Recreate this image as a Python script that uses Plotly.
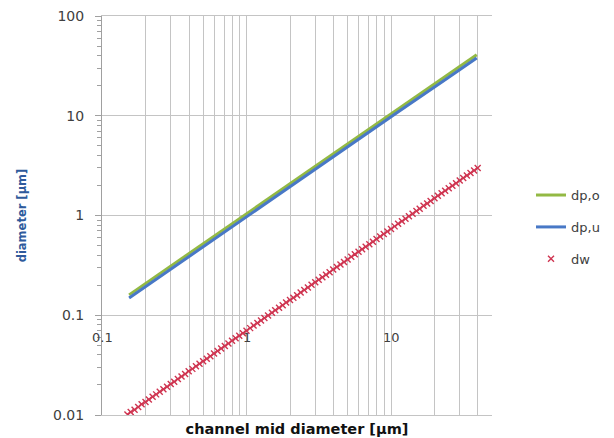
import math
import plotly.graph_objects as go

# channel mid diameters [µm]
channel_mid = [0.150, 0.158, 0.168, 0.178, 0.188, 0.200, 0.211, 0.224, 0.237, 0.251,
               0.266, 0.282, 0.299, 0.316, 0.335, 0.355, 0.376, 0.398, 0.422, 0.447,
               0.473, 0.501, 0.531, 0.562, 0.596, 0.631, 0.668, 0.708, 0.750, 0.794,
               0.841, 0.891, 0.944,
               1.00, 1.06, 1.12, 1.19, 1.26, 1.33, 1.41, 1.50, 1.58, 1.68,
               1.78, 1.88, 2.00, 2.11, 2.24, 2.37, 2.51, 2.66, 2.82, 2.99,
               3.16, 3.35, 3.55, 3.76, 3.98, 4.22, 4.47, 4.73, 5.01, 5.31,
               5.62, 5.96, 6.31, 6.68, 7.08, 7.50, 7.94, 8.41, 8.91, 9.44,
               10.0, 10.6, 11.2, 11.9, 12.6, 13.3, 14.1, 15.0, 15.8, 16.8,
               17.8, 18.8, 20.0, 21.1, 22.4, 23.7, 25.1, 26.6, 28.2, 29.9,
               31.6, 33.5, 35.5, 37.6, 39.8]

dw = [0.0101, 0.0107, 0.0113, 0.0120, 0.0128, 0.0135, 0.0143, 0.0152, 0.0161, 0.0171,
      0.0181, 0.0192, 0.0204, 0.0216, 0.0229, 0.0243, 0.0258, 0.0274, 0.0290, 0.0308,
      0.0326, 0.0346, 0.0367, 0.0389, 0.0413, 0.0438, 0.0464, 0.0492, 0.0522, 0.0554,
      0.0587, 0.0623, 0.0660,
      0.0700, 0.0743, 0.0788, 0.0835, 0.0885, 0.0939, 0.0996, 0.106, 0.112, 0.119,
      0.126, 0.134, 0.142, 0.150, 0.159, 0.169, 0.179, 0.190, 0.202, 0.214,
      0.227, 0.240, 0.255, 0.270, 0.287, 0.304, 0.322, 0.342, 0.363, 0.385,
      0.408, 0.432, 0.459, 0.486, 0.516, 0.547, 0.580, 0.615, 0.652, 0.692,
      0.734, 0.778, 0.825, 0.875, 0.928, 0.984, 1.04, 1.11, 1.17, 1.25,
      1.32, 1.40, 1.49, 1.58, 1.67, 1.77, 1.88, 1.99, 2.11, 2.24,
      2.38, 2.52, 2.67, 2.83, 3.00]

line_x = [0.154, 0.316, 0.649, 1.33, 2.74, 5.62, 11.5, 23.7, 39.2]
dp_o = [0.160, 0.329, 0.675, 1.38, 2.85, 5.84, 12.0, 24.6, 40.8]
dp_u = [0.149, 0.307, 0.630, 1.29, 2.66, 5.45, 11.2, 23.0, 38.0]

y_ticks = [0.01, 0.1, 1, 10, 100]
y_ticklabels = ["0.01", "0.1", "1", "10", "100"]
x_ticks = [0.1, 1, 10]
x_ticklabels = ["0.1", "1", "10"]

FONT = "DejaVu Sans"
GRID = "#C4C4C4"

fig = go.Figure()
fig.add_trace(go.Scatter(x=line_x, y=dp_o, mode="lines", name="dp,o", legendgroup="a",
                         line=dict(color="#93B944", width=3)))
fig.add_trace(go.Scatter(x=line_x, y=dp_u, mode="lines", name="dp,u", legendgroup="b",
                         line=dict(color="#4878C6", width=3)))
fig.add_trace(go.Scatter(x=channel_mid, y=dw, mode="markers", name="dw", legendgroup="c",
                         marker=dict(symbol="x-thin", size=6, color="#CF3450",
                                     line=dict(color="#CF3450", width=1.4))))

for xv, lab in zip(x_ticks, x_ticklabels):
    fig.add_annotation(x=math.log10(xv), y=math.log10(0.1), xref="x", yref="y",
                       text=lab, showarrow=False, yanchor="top", yshift=-13,
                       font=dict(family=FONT, size=13, color="#404040"))

fig.update_layout(
    width=614, height=438,
    margin=dict(l=94, r=130, t=8, b=31),
    paper_bgcolor="white", plot_bgcolor="white",
    showlegend=True,
    legend=dict(x=1.10, y=0.471, xanchor="left", yanchor="middle",
                font=dict(family=FONT, size=13, color="#404040"),
                tracegroupgap=12, bgcolor="rgba(0,0,0,0)"),
    xaxis=dict(type="log", range=[-1, 1.699], showticklabels=False,
               tickvals=x_ticks, showgrid=True, gridcolor=GRID, gridwidth=1,
               minor=dict(showgrid=True, gridcolor=GRID, dtick="D1"),
               showline=True, linecolor=GRID, mirror=True, zeroline=False,
               title=dict(text="<b>channel mid diameter [µm]</b>", standoff=8,
                          font=dict(family=FONT, size=14.5, color="#111111")),
               automargin=False),
    yaxis=dict(type="log", range=[-2, 2], tickvals=y_ticks, ticktext=y_ticklabels,
               showgrid=True, gridcolor=GRID, gridwidth=1,
               ticks="outside", ticklen=6, tickcolor="#A0A0A0",
               minor=dict(ticks="outside", ticklen=4, tickcolor="#A0A0A0",
                          dtick="D1", showgrid=False),
               ticklabelstandoff=8, ticklabeloverflow="allow",
               tickfont=dict(family=FONT, size=14, color="#404040"),
               showline=True, linecolor="#A0A0A0", mirror=False, zeroline=False,
               title=dict(text="<b>diameter [µm]</b>", standoff=24,
                          font=dict(family=FONT, size=11.5, color="#2E5A9C")),
               automargin=False),
)

fig.write_html("out.html")
